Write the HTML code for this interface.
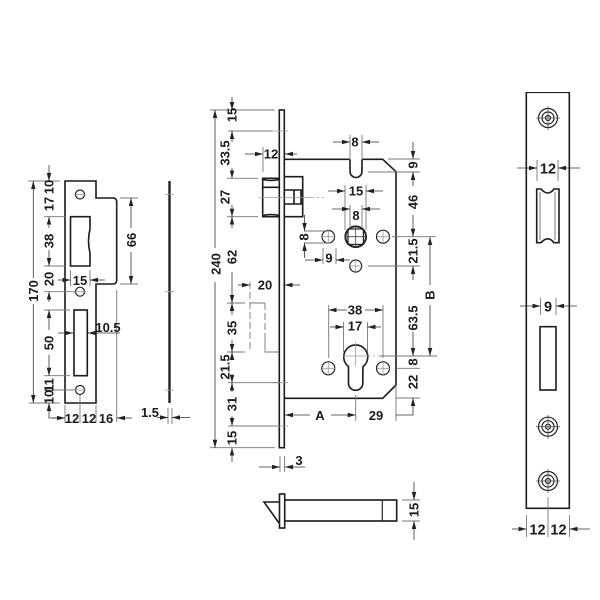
<!DOCTYPE html>
<html><head><meta charset="utf-8"><style>
html,body{margin:0;padding:0;background:#fff}
svg{display:block}
text{font-family:"Liberation Sans",sans-serif;font-size:13px;font-weight:bold;fill:#1a1a1a;text-anchor:middle}
.o{fill:none;stroke:#1a1a1a;stroke-width:1.6}
.f{fill:#fff;stroke:#1a1a1a;stroke-width:1.6}
.h{fill:none;stroke:#222;stroke-width:1.2}
.e{stroke:#777;stroke-width:.9;fill:none}
.c{stroke:#999;stroke-width:.8;fill:none}
.a{stroke:#333;stroke-width:.8;fill:none;marker-end:url(#m)}
.l{stroke:#333;stroke-width:.8;fill:none}
.big{font-size:14.5px}
</style></head><body>
<svg width="600" height="600" viewBox="0 0 600 600" xmlns="http://www.w3.org/2000/svg">
<defs>
<marker id="m" markerUnits="userSpaceOnUse" markerWidth="9" markerHeight="5" refX="8" refY="2.25" orient="auto"><path d="M0,0L8,2.25L0,4.5z" fill="#222"/></marker>
<filter id="b" x="0" y="0" width="100%" height="100%"><feGaussianBlur stdDeviation="0.3"/></filter>
</defs>
<g filter="url(#b)">
<!-- LEFT STRIKE PLATE -->
<path class="o" d="M65,181H96V198H113Q116.7,198 116.7,202V280Q116.7,284 113,284H96V403H65Z"/>
<path class="o" d="M70.5,216.7H90V229Q87,241 90,253V266H70.5Z"/>
<rect class="o" x="74" y="310" width="13.3" height="65.7"/>
<g class="h"><circle cx="80" cy="194.5" r="4.5"/><circle cx="80" cy="291.7" r="4.5"/><circle cx="80" cy="390" r="4.5"/></g>
<path class="c" d="M74,194.5H86M74,291.7H86M74,390H86"/>
<path class="e" d="M116.7,290V422M28,181H60M29,403H60M44,216.7H65M44,266H65M44,291.7H75M44,310H70M44,375.7H70M44,390H76M70.5,270V286M90,270V286M65,405V423M80,395V423M96,405V423M120,198H138M120,284H138M168,408V424M172,408V424"/>
<line class="a" x1="33.3" y1="278" x2="33.3" y2="181"/><line class="a" x1="33.3" y1="304" x2="33.3" y2="403"/>
<line class="a" x1="49" y1="165" x2="49" y2="181"/>
<line class="a" x1="49" y1="228" x2="49" y2="216.7"/><line class="a" x1="49" y1="250" x2="49" y2="266"/>
<line class="a" x1="49" y1="302" x2="49" y2="291.7"/>
<line class="a" x1="49" y1="330" x2="49" y2="310"/><line class="a" x1="49" y1="355" x2="49" y2="375.7"/>
<path class="a" d="M65,418H49V403"/>
<line class="a" x1="131" y1="228" x2="131" y2="198"/><line class="a" x1="131" y1="252" x2="131" y2="284"/>
<line class="a" x1="58" y1="280" x2="70.5" y2="280"/><line class="a" x1="105" y1="280" x2="90" y2="280"/>
<line class="a" x1="58" y1="333" x2="73" y2="333"/><path class="a" d="M120,333H88"/>
<line class="a" x1="52" y1="418" x2="65" y2="418"/><line class="a" x1="132" y1="418" x2="117" y2="418"/>
<line class="a" x1="157" y1="417.5" x2="168" y2="417.5"/><line class="a" x1="190" y1="417.5" x2="172" y2="417.5"/>
<text transform="translate(38,291) rotate(-90)">170</text>
<text transform="translate(53.5,187) rotate(-90)">10</text>
<text transform="translate(53.5,204) rotate(-90)">17</text>
<text transform="translate(53.5,241) rotate(-90)">38</text>
<text transform="translate(53.5,279) rotate(-90)">20</text>
<text transform="translate(53.5,343) rotate(-90)">50</text>
<text transform="translate(53.5,385) rotate(-90)">11</text>
<text transform="translate(53.5,397) rotate(-90)">10</text>
<text transform="translate(136,240) rotate(-90)">66</text>
<text x="80" y="285">15</text><text x="108" y="332">10.5</text>
<text x="72" y="423">12</text><text x="89" y="423">12</text><text x="106" y="423">16</text><text x="150" y="417">1.5</text>
<!-- THIN SHEET -->
<line x1="169.5" y1="181" x2="169.5" y2="403" stroke="#222" stroke-width="2.4"/>
<path class="c" d="M165,194.5H174M165,291.7H174M165,390H174"/>
<!-- LOCK BODY -->
<path class="o" d="M284.3,159.3H350M362,159.3H382.7L396,171.7V385L382.7,398.3H284.3"/>
<path class="o" d="M350,159.3V171.5A6,6 0 0 0 362,171.5V159.3"/>
<rect class="f" x="279.3" y="110" width="5" height="337.7"/>
<path class="o" d="M279.3,178.3H262.7V216.7H279.3M262.7,187.3H279.3M262.7,179.5Q271,181.5 279.3,179.5M262.7,215.5Q271,213.5 279.3,215.5"/>
<path class="o" d="M284.3,176.7H302.7V216.7H284.3M284.3,190H301V204H284.3M294,190V204"/>
<path class="c" d="M259,197.5H312M272,131H288M272,382.7H288M272,426H288"/>
<path class="c" stroke-dasharray="2 3" d="M312,197.5H326"/>
<g class="h"><circle cx="328.3" cy="236.7" r="6.3"/><circle cx="383" cy="236.7" r="6.5"/><circle cx="355.7" cy="266" r="6"/><circle cx="328.3" cy="368.3" r="6.5"/><circle cx="383" cy="368.3" r="6.5"/></g>
<path class="c" d="M322,236.7H335M377,236.7H390M349,266H362M322,368.3H335M377,368.3H390M328.3,230V243M383,230V243M355.7,260V272M328.3,362V375M383,362V375"/>
<circle cx="355.7" cy="236.7" r="10.3" fill="none" stroke="#222" stroke-width="2"/>
<rect x="348" y="229" width="15.4" height="15.4" fill="none" stroke="#222" stroke-width="1.2"/>
<path class="c" d="M355.7,226V247M345,236.7H366" style="stroke:#444"/>
<!-- cylinder -->
<path class="o" d="M348.5,366.5A12,12 0 1 1 363,366.5Q362.8,372 362.8,384A7.2,7.2 0 0 1 348.5,384Q348.5,372 348.5,366.5Z"/>
<path class="c" d="M343,356H368M355.7,342V366"/>
<path class="c" stroke-dasharray="2 3" d="M368,356H380"/>
<path class="e" d="M210,110H275M228,131H272M227,178.3H258M227,216.7H258M227,303H245M227,352H245M228,382.7H280M228,426H280M210,447.7H275"/>
<path class="e" stroke-dasharray="7 3" d="M250,282V352M265,303V335"/>
<path class="e" d="M250,303H265M265,335V352H279M263,147V172M280,456V472M284.5,456V472"/>
<line class="a" x1="215" y1="248" x2="215" y2="110"/><line class="a" x1="215" y1="282" x2="215" y2="447.7"/>
<line class="a" x1="232" y1="97" x2="232" y2="110"/>
<line class="a" x1="232" y1="142" x2="232" y2="131"/><line class="a" x1="232" y1="168" x2="232" y2="178.3"/>
<line class="a" x1="232" y1="205" x2="232" y2="216.7"/>
<line class="a" x1="232" y1="228" x2="232" y2="216.7"/>
<line class="a" x1="232" y1="272" x2="232" y2="303"/><line class="a" x1="232" y1="315" x2="232" y2="303"/>
<line class="a" x1="232" y1="340" x2="232" y2="352"/><line class="a" x1="232" y1="360" x2="232" y2="352"/>
<line class="a" x1="232" y1="375" x2="232" y2="382.7"/><line class="a" x1="232" y1="392" x2="232" y2="382.7"/>
<line class="a" x1="232" y1="416" x2="232" y2="426"/><line class="a" x1="232" y1="462" x2="232" y2="447.7"/>
<line class="a" x1="245" y1="154" x2="263" y2="154"/><line class="a" x1="297" y1="154" x2="285" y2="154"/>
<line class="a" x1="238" y1="285" x2="250" y2="285"/><line class="a" x1="300" y1="285" x2="284.5" y2="285"/>
<line class="a" x1="259" y1="467" x2="280" y2="467"/><line class="a" x1="305" y1="467" x2="285" y2="467"/>
<line class="a" x1="310" y1="415" x2="285" y2="415"/><line class="a" x1="331" y1="415" x2="355.7" y2="415"/>
<text transform="translate(236.5,115) rotate(-90)">15</text>
<text transform="translate(229.5,153) rotate(-90)">33.5</text>
<text transform="translate(229.5,197) rotate(-90)">27</text>
<text transform="translate(236.5,257) rotate(-90)">62</text>
<text transform="translate(236.5,328) rotate(-90)">35</text>
<text transform="translate(229.5,367) rotate(-90)">21.5</text>
<text transform="translate(236.5,404) rotate(-90)">31</text>
<text transform="translate(236.5,438) rotate(-90)">15</text>
<text transform="translate(220.5,264) rotate(-90)">240</text>
<text x="271" y="158.5">12</text><text x="265" y="289.5">20</text><text x="299" y="465">3</text>
<!-- lock dims -->
<path class="e" d="M350,135V160M362,135V160M388,159H420M368,172H420M392,236.7H436M368,266H420M380,356H437M396,368.3H420M396,398H420M345,185V230M366,185V230M350,205V228M362,205V228M304,231H330M304,243H330M323,248V264M336,248V264M328.7,305V358M383,305V358M343.5,322V352M367.5,322V352M355.7,395V421M396,385V421"/>
<line class="a" x1="333" y1="142" x2="350" y2="142"/><line class="a" x1="379" y1="142" x2="362" y2="142"/>
<line class="a" x1="413" y1="142" x2="413" y2="159"/><line class="a" x1="413" y1="186" x2="413" y2="172"/>
<line class="a" x1="413" y1="215" x2="413" y2="236.7"/>
<line class="a" x1="413" y1="280" x2="413" y2="266"/><line class="a" x1="413" y1="332" x2="413" y2="356"/>
<path class="a" d="M396,415H413V398"/>
<line class="a" x1="430" y1="285" x2="430" y2="237"/><line class="a" x1="430" y1="305" x2="430" y2="356"/>
<line class="a" x1="328" y1="191" x2="345" y2="191"/><line class="a" x1="383" y1="191" x2="366" y2="191"/>
<line class="a" x1="332" y1="209" x2="350" y2="209"/><line class="a" x1="380" y1="209" x2="362" y2="209"/>
<line class="a" x1="304.5" y1="215" x2="304.5" y2="231"/><line class="a" x1="304.5" y1="258" x2="304.5" y2="243"/>
<line class="a" x1="305" y1="260" x2="323" y2="260"/><line class="a" x1="350" y1="260" x2="336" y2="260"/>
<line class="a" x1="347" y1="310" x2="328.7" y2="310"/><line class="a" x1="365" y1="310" x2="383" y2="310"/>
<line class="a" x1="330" y1="327" x2="343.5" y2="327"/><line class="a" x1="381" y1="327" x2="367.5" y2="327"/>
<text x="355" y="146.5">8</text><text x="356" y="195.5">15</text><text x="356" y="220">8</text><text x="329" y="262.5">9</text>
<text x="355" y="314.5">38</text><text x="355" y="330.5">17</text><text x="320" y="420">A</text><text x="376" y="420">29</text>
<text transform="translate(308.5,237) rotate(-90)">8</text>
<text transform="translate(417.5,165) rotate(-90)">9</text>
<text transform="translate(417.5,202) rotate(-90)">46</text>
<text transform="translate(417.5,251) rotate(-90)">21.5</text>
<text transform="translate(417.5,318) rotate(-90)">63.5</text>
<text transform="translate(417.5,362) rotate(-90)">8</text>
<text transform="translate(417.5,382) rotate(-90)">22</text>
<text transform="translate(434.5,295) rotate(-90)">B</text>
<!-- BOLT -->
<rect class="o" x="284.7" y="500" width="112" height="21"/>
<line class="h" x1="382.3" y1="500" x2="382.3" y2="521"/>
<path class="o" d="M279,502H264L279,523"/>
<rect class="f" x="279.5" y="494" width="5.2" height="34"/>
<path class="e" d="M402,500H420M402,521H420"/>
<line class="a" x1="414" y1="482" x2="414" y2="500"/><line class="a" x1="414" y1="540" x2="414" y2="521"/>
<text transform="translate(418.5,510) rotate(-90)">15</text>
<!-- RIGHT PLATE -->
<rect class="o" x="526.3" y="92.3" width="43" height="416"/>
<g class="h">
<circle cx="548" cy="118" r="9.5"/><circle cx="548" cy="118" r="6"/><circle cx="548" cy="118" r="2.5"/>
<circle cx="548" cy="426.7" r="9.5"/><circle cx="548" cy="426.7" r="6"/><circle cx="548" cy="426.7" r="2.5"/>
<circle cx="548" cy="481" r="9.5"/><circle cx="548" cy="481" r="6"/><circle cx="548" cy="481" r="2.5"/>
</g>
<path class="c" d="M536,118H560M548,106V130M536,426.7H560M548,415V439M536,481H560M548,469V493" style="stroke:#555"/>
<path class="o" d="M536.7,189H541Q548,197 554,189H559V242.7H554Q548,235 541,242.7H536.7Z"/>
<path class="c" d="M540,192V240M555,192V240" style="stroke:#555"/>
<rect class="o" x="540" y="326.7" width="16" height="63.3"/>
<path class="e" d="M537,160V181M558,160V181M540.5,298V315M556,298V315M526.5,515V537M569.5,515V537M548,497V537"/>
<line class="a" x1="517" y1="168" x2="537" y2="168"/><line class="a" x1="580" y1="168" x2="558" y2="168"/>
<line class="a" x1="520" y1="306" x2="540.5" y2="306"/><line class="a" x1="577" y1="306" x2="556" y2="306"/>
<line class="a" x1="512" y1="529" x2="526.5" y2="529"/><line class="a" x1="590" y1="529" x2="569.5" y2="529"/>
<text class="big" x="548" y="173.5">12</text><text class="big" x="548" y="311.5">9</text>
<text class="big" x="537.5" y="534.5">12</text><text class="big" x="558.5" y="534.5">12</text>
</g>
</svg>
</body></html>
